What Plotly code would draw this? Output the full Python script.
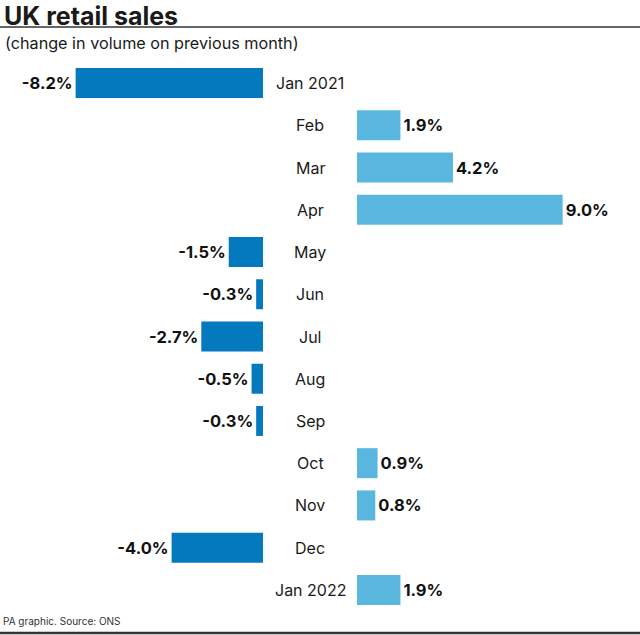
import plotly.graph_objects as go

months = ["Jan 2021", "Feb", "Mar", "Apr", "May", "Jun", "Jul", "Aug", "Sep", "Oct", "Nov", "Dec", "Jan 2022"]
changes = [-8.2, 1.9, 4.2, 9.0, -1.5, -0.3, -2.7, -0.5, -0.3, 0.9, 0.8, -4.0, 1.9]

W, H = 640, 635
px_per_unit = 22.85
left_end = 263
right_start = 357
top = 62
bottom = 24
plot_h = H - top - bottom


def py(p):
    """reference pixel y -> paper y"""
    return (H - bottom - p) / plot_h


def px(p):
    return p / W


neg_m = [m for m, v in zip(months, changes) if v < 0]
neg_v = [v for v in changes if v < 0]
pos_m = [m for m, v in zip(months, changes) if v >= 0]
pos_v = [v for v in changes if v >= 0]

DARK = "#0479BE"
LIGHT = "#58B6DF"
FONT = "Inter"

fig = go.Figure()
fig.add_trace(go.Bar(
    y=neg_m, x=neg_v, orientation="h", marker=dict(color=DARK, line=dict(width=0)),
    width=0.71, xaxis="x", yaxis="y",
    text=[f"{v:.1f}%" for v in neg_v], textposition="outside", cliponaxis=False,
    textfont=dict(family=FONT, size=16.5, color="#111111", weight="bold"),
))
fig.add_trace(go.Bar(
    y=pos_m, x=pos_v, orientation="h", marker=dict(color=LIGHT, line=dict(width=0)),
    width=0.71, xaxis="x2", yaxis="y",
    text=[f"{v:.1f}%" for v in pos_v], textposition="outside", cliponaxis=False,
    textfont=dict(family=FONT, size=16.5, color="#111111", weight="bold"),
))

for m in months:
    fig.add_annotation(x=px(310), xref="paper", y=m, yref="y", text=m, showarrow=False,
                       xanchor="center", yanchor="middle",
                       font=dict(family=FONT, size=16, color="#1a1a1a"))

fig.add_annotation(x=px(3), y=py(0), xref="paper", yref="paper", text="<b>UK retail sales</b>",
                   showarrow=False, xanchor="left", yanchor="top", borderpad=0,
                   font=dict(family=FONT, size=25, color="#1a1a1a"))
fig.add_annotation(x=px(3), y=py(43), xref="paper", yref="paper", text="(change in volume on previous month)",
                   showarrow=False, xanchor="left", yanchor="middle",
                   font=dict(family=FONT, size=16.2, color="#1a1a1a"))
fig.add_annotation(x=px(1), y=py(621), xref="paper", yref="paper", text="PA graphic. Source: ONS",
                   showarrow=False, xanchor="left", yanchor="middle",
                   font=dict(family=FONT, size=10, color="#333333"))

fig.add_shape(type="line", xref="paper", yref="paper", x0=0, x1=1, y0=py(27), y1=py(27),
              line=dict(color="#333333", width=1.5))
fig.add_shape(type="line", xref="paper", yref="paper", x0=0, x1=1, y0=py(633), y1=py(633),
              line=dict(color="#333333", width=2.5))

fig.update_layout(
    width=W, height=H, margin=dict(l=0, r=0, t=top, b=bottom),
    paper_bgcolor="white", plot_bgcolor="white", showlegend=False,
    xaxis=dict(domain=[0, left_end / W], range=[-left_end / px_per_unit, 0], visible=False, fixedrange=True),
    xaxis2=dict(domain=[right_start / W, 1], range=[0, (W - right_start) / px_per_unit], visible=False,
                anchor="y", fixedrange=True),
    yaxis=dict(categoryorder="array", categoryarray=months, autorange=False,
               range=[len(months) - 0.5, -0.5], visible=False),
    font=dict(family=FONT),
)

fig.write_html("out.html", config={"displayModeBar": False},
               post_script="document.body.style.margin='0';document.body.style.overflow='hidden';")
